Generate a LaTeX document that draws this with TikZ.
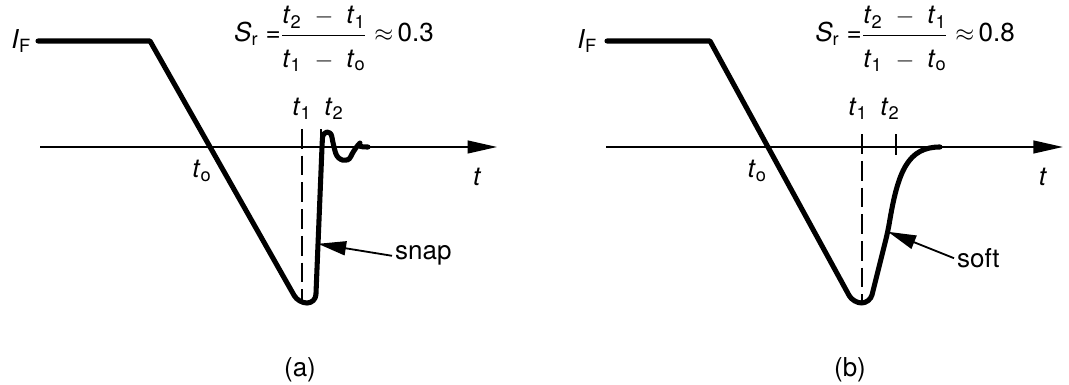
\documentclass[tikz,border=0pt]{standalone}
\usepackage{amsmath}
\usepackage{fontspec}
\setmainfont{TeX Gyre Heros}
\usetikzlibrary{arrows.meta}

\newcommand{\tv}[1]{\textit{t}\textsubscript{#1}}
\newcommand{\srfrac}[1]{\textit{S}\textsubscript{r} =$\genfrac{}{}{1.1pt}{0}{\mbox{\tv2\enspace$-$\enspace\tv1}\rule[-0.25em]{0pt}{0.25em}}{\rule{0pt}{1.0em}\mbox{\tv1\enspace$-$\enspace\tv{o}}}$\ $\approx$\,#1}

\tikzset{
    wave/.style={line width=3.6pt, line join=round, line cap=round},
    axisline/.style={line width=1.5pt, -{Triangle[length=21pt,width=9pt]}},
    marker/.style={line width=1.1pt},
    dashline/.style={line width=1.1pt, dash pattern=on 14pt off 5pt},
    lbl/.style={font=\fontsize{18.5}{22}\selectfont, inner sep=2pt},
    pointer/.style={line width=1.3pt, -{Triangle[length=20pt,width=10pt]}}
}

\begin{document}
\begin{tikzpicture}

    \useasboundingbox (0,-5.95) rectangle (26.725,3.675);

    % ---------- (a) snap ----------
    % axis
    \coordinate (axa0) at (1.0,0);
    \coordinate (axa1) at (12.43,0);
    \draw [axisline] (axa0) -- (axa1);

    % t1 and t2 lines
    \draw [dashline] (7.55,0.45) -- (7.55,-3.85);
    \draw [marker] (8.03,0) -- (8.03,0.45);

    % current
    \draw [wave] (0.95,2.65) -- (3.75,2.65) [rounded corners=6pt] -- (7.46,-3.9) -- (7.89,-3.9) -- (8.05,0)
        .. controls (8.07,0.42) and (8.27,0.42) .. (8.33,0.05)
        .. controls (8.45,-0.35) and (8.7,-0.4) .. (8.85,-0.05)
        .. controls (8.92,0.02) and (9.0,0) .. (9.2,0);

    % lecter
    \node [lbl, anchor=east] (IFa) at (0.85,2.65) {\textit{I}\textsubscript{F}};
    \node [lbl] (Sra) at (8.35,2.7) {\srfrac{0.3}};
    \node [lbl] (t1a) at (7.55,0.95) {\tv1};
    \node [lbl] (t2a) at (8.35,0.95) {\tv2};
    \node [lbl] (toa) at (5.05,-0.6) {\tv{o}};
    \node [lbl] (ta) at (11.93,-0.75) {\textit{t}};
    \node [lbl, anchor=west] (snap) at (9.8,-2.72) {snap};
    \coordinate (snaptip) at (7.95,-2.42);
    \draw [pointer] (snap.west) -- (snaptip);
    \node [lbl] (capa) at (7.5,-5.57) {(a)};

    % ---------- (b) soft ----------
    % axis
    \coordinate (axb0) at (15.15,0);
    \coordinate (axb1) at (26.575,0);
    \draw [axisline] (axb0) -- (axb1);

    % t1 and t2 lines
    \draw [dashline] (21.55,0.32) -- (21.55,-3.85);
    \draw [marker] (22.4,0.32) -- (22.4,-0.2);

    % current
    \draw [wave] (15.175,2.65) -- (17.75,2.65) [rounded corners=6pt] -- (21.33,-3.9) -- (21.75,-3.9) -- (22.2,-2.1)
        .. controls (22.45,-0.6) and (22.7,0) .. (23.5,0);

    % lecter
    \node [lbl, anchor=east] (IFb) at (15.0,2.65) {\textit{I}\textsubscript{F}};
    \node [lbl] (Srb) at (22.875,2.7) {\srfrac{0.8}};
    \node [lbl] (t1b) at (21.45,0.95) {\tv1};
    \node [lbl] (t2b) at (22.25,0.95) {\tv2};
    \node [lbl] (tob) at (18.93,-0.6) {\tv{o}};
    \node [lbl] (tb) at (26.075,-0.75) {\textit{t}};
    \node [lbl, anchor=west] (soft) at (23.85,-2.78) {soft};
    \coordinate (softtip) at (22.2,-2.12);
    \draw [pointer] (soft.west) -- (softtip);
    \node [lbl] (capb) at (21.25,-5.57) {(b)};

\end{tikzpicture}
\end{document}
